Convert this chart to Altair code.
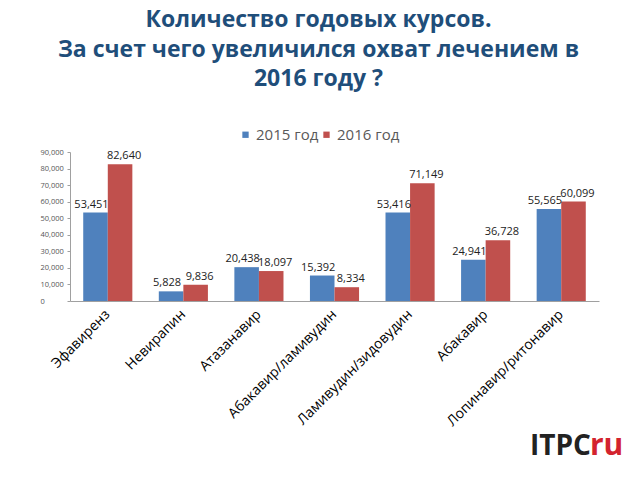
import altair as alt
import pandas as pd

categories = ["Эфавиренз", "Невирапин", "Атазанавир", "Абакавир/ламивудин",
              "Ламивудин/зидовудин", "Абакавир", "Лопинавир/ритонавир"]
years = ["2015 год", "2016 год"]
values_2015 = [53451, 5828, 20438, 15392, 53416, 24941, 55565]
values_2016 = [82640, 9836, 18097, 8334, 71149, 36728, 60099]
y_ticks = [0, 10000, 20000, 30000, 40000, 50000, 60000, 70000, 80000, 90000]
title_lines = ["Количество годовых курсов.",
               "За счет чего увеличился охват лечением в",
               "2016 году ?"]

rows = []
for c, a, b in zip(categories, values_2015, values_2016):
    rows.append({"cat": c, "year": years[0], "val": a})
    rows.append({"cat": c, "year": years[1], "val": b})
df = pd.DataFrame(rows)

FONT = "Open Sans"

x_enc = alt.X("cat:N", sort=categories,
              scale=alt.Scale(paddingInner=0.35, paddingOuter=0.175),
              axis=alt.Axis(title=None, labelAngle=-45, labelAlign="right",
                            labelBaseline="middle", labelFontSize=14, labelFont=FONT,
                            labelColor="#000000", ticks=False, domainColor="#A0A0A0",
                            labelPadding=11))
xo_enc = alt.XOffset("year:N", sort=years, scale=alt.Scale(paddingInner=0, paddingOuter=0))
y_enc = alt.Y("val:Q", scale=alt.Scale(domain=[0, 90000], nice=False),
              axis=alt.Axis(title=None, values=y_ticks, format=",d", labelFontSize=7.5,
                            labelFont=FONT, labelColor="#555555", grid=False,
                            domainColor="#A0A0A0", tickColor="#A0A0A0", tickSize=3,
                            labelAlign="left", labelPadding=27))

base = alt.Chart(df)
bars = base.mark_bar().encode(
    x=x_enc, xOffset=xo_enc, y=y_enc,
    color=alt.Color("year:N", sort=years,
                    scale=alt.Scale(domain=years, range=["#4F81BD", "#C0504D"]),
                    legend=alt.Legend(title=None, orient="none", direction="horizontal",
                                      legendX=168, legendY=-25, symbolType="square",
                                      symbolSize=40, labelFontSize=15, labelFont=FONT,
                                      labelColor="#595959", columnPadding=0,
                                      labelOffset=3, symbolStrokeWidth=0)),
)
labels_2015 = base.transform_filter(alt.datum.year == years[0]).mark_text(
    dy=-8, dx=-4, fontSize=11, font=FONT, color="#222222").encode(
    x=x_enc, xOffset=xo_enc, y=y_enc,
    text=alt.Text("val:Q", format=","),
)
labels_2016 = base.transform_filter(alt.datum.year == years[1]).mark_text(
    dy=-8, dx=4, fontSize=11, font=FONT, color="#222222").encode(
    x=x_enc, xOffset=xo_enc, y=y_enc,
    text=alt.Text("val:Q", format=","),
)

logo1 = alt.Chart(pd.DataFrame({"t": ["ITPC"]})).mark_text(
    font=FONT, fontSize=28, fontWeight="bold", color="#222222", align="left",
    baseline="alphabetic").encode(x=alt.value(460), y=alt.value(303), text="t:N")
logo2 = alt.Chart(pd.DataFrame({"t": ["ru"]})).mark_text(
    font=FONT, fontSize=30, fontWeight="bold", color="#D3232E", align="left",
    baseline="alphabetic").encode(x=alt.value(520), y=alt.value(303), text="t:N")

chart = alt.layer(bars, labels_2015, labels_2016, logo1, logo2).properties(
    width=529, height=149,
    autosize=alt.AutoSizeParams(type="none"),
    padding={"left": 70, "top": 152, "right": 41, "bottom": 179},
    title=alt.TitleParams(text=title_lines, anchor="middle", fontSize=23,
                          font=FONT, fontWeight="bold", color="#1F4E7A",
                          lineHeight=29.5, offset=36, dx=-16),
).configure_view(stroke=None)

chart.save("out.html", embed_options={"renderer": "svg", "actions": False})
